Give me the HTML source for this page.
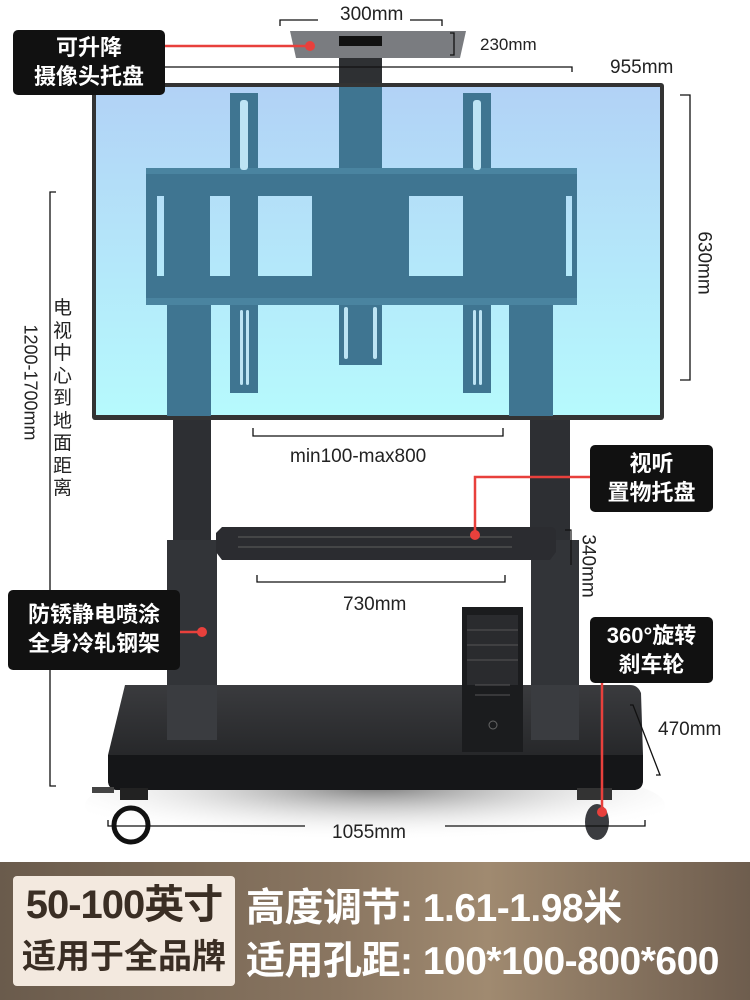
<!DOCTYPE html>
<html><head><meta charset="utf-8"><style>
body{margin:0;width:750px;height:1000px;position:relative;background:#fff;overflow:hidden;font-family:"Liberation Sans","Noto Sans CJK SC",sans-serif}
.a{position:absolute;white-space:nowrap}
.lbl{position:absolute;background:#111;color:#fff;border-radius:5px;font-weight:bold;font-size:22px;line-height:29px;text-align:center;font-family:"Liberation Sans","Noto Sans CJK SC",sans-serif}
.dim{font-size:19px;color:#222}
</style></head><body>
<svg class="a" style="left:0;top:0" width="750" height="862">
<defs>
<linearGradient id="scr" x1="0" y1="0" x2="0" y2="1"><stop offset="0" stop-color="#b2d2f6"/><stop offset="1" stop-color="#b6fafd"/></linearGradient>
<linearGradient id="base" x1="0" y1="0" x2="0" y2="1"><stop offset="0" stop-color="#3a3b3e"/><stop offset="1" stop-color="#1d1e20"/></linearGradient>
<radialGradient id="sh" cx="0.5" cy="0.3" r="0.6"><stop offset="0" stop-color="#444" stop-opacity=".7"/><stop offset="1" stop-color="#fff" stop-opacity="0"/></radialGradient>
</defs>
<rect x="339" y="33" width="43" height="55" fill="#2e3033"/>
<path d="M290 31 L466 31 L460 58 L296 58 Z" fill="#7a7c80"/>
<rect x="339" y="36" width="43" height="10" fill="#111"/>
<path d="M280 26 V20 H318 M410 20 H442 V26" stroke="#111" fill="none" stroke-width="1.3"/>
<path d="M450 33 H454 V55 H450" stroke="#111" fill="none" stroke-width="1.3"/>
<path d="M160 67 H572 V72" stroke="#111" fill="none" stroke-width="1.3"/>
<rect x="92" y="83" width="572" height="337" rx="3" fill="#333"/>
<rect x="96" y="87" width="564" height="328" fill="url(#scr)"/>
<g fill="#3f7591">
<rect x="339" y="87" width="43" height="278"/>
<rect x="167" y="300" width="44" height="116"/>
<rect x="509" y="300" width="44" height="116"/>
<path d="M146 168 H577 V305 H146 Z M157 196 V276 H164 V196 Z M210 196 V276 H312 V196 Z M409 196 V276 H463 V196 Z M566 196 V276 H572 V196 Z" fill-rule="evenodd"/>
<rect x="230" y="93" width="28" height="300"/>
<rect x="463" y="93" width="28" height="300"/>
</g>
<rect x="146" y="168" width="431" height="6" fill="#4a84a0"/>
<rect x="146" y="298" width="431" height="7" fill="#4a84a0"/>
<g fill="#bde4f4">
<rect x="240" y="100" width="8" height="70" rx="3"/><rect x="473" y="100" width="8" height="70" rx="3"/>
<rect x="240" y="310" width="3" height="75" rx="1.5"/><rect x="246" y="310" width="3" height="75" rx="1.5"/>
<rect x="473" y="310" width="3" height="75" rx="1.5"/><rect x="479" y="310" width="3" height="75" rx="1.5"/>
<rect x="344" y="307" width="4" height="52" rx="2"/><rect x="373" y="307" width="4" height="52" rx="2"/>
</g>
<rect x="173" y="420" width="38" height="120" fill="#2d2f33"/>
<rect x="530" y="420" width="40" height="120" fill="#2d2f33"/>
<path d="M253 428 V436 H503 V428" stroke="#111" fill="none" stroke-width="1.3"/>
<path d="M680 95 H690 V380 H680" stroke="#111" fill="none" stroke-width="1.3"/>
<path d="M56 192 H50 V786 H56" stroke="#111" fill="none" stroke-width="1.3"/>
<rect x="167" y="540" width="50" height="200" fill="#323438"/>
<rect x="531" y="540" width="48" height="200" fill="#323438"/>
<path d="M222 527 H550 Q556 527 556 533 V552 L550 560 H222 L216 552 V533 Z" fill="#2b2c30"/>
<path d="M238 537 H512 M238 547 H512" stroke="#555" stroke-width="1.2"/>
<path d="M257 575 V582 H505 V575" stroke="#111" fill="none" stroke-width="1.3"/>
<path d="M565 530 H571 V565" stroke="#111" fill="none" stroke-width="1.2"/>
<ellipse cx="375" cy="805" rx="290" ry="45" fill="url(#sh)"/>
<path d="M125 685 H630 Q638 685 641 693 L643 755 V780 Q643 790 633 790 H118 Q108 790 108 780 V755 Z" fill="url(#base)"/>
<path d="M108 755 H643 V780 Q643 790 633 790 H118 Q108 790 108 780 Z" fill="#151618"/>
<rect x="167" y="685" width="50" height="55" fill="#3a3c40"/>
<rect x="531" y="685" width="48" height="55" fill="#3a3c40"/>
<rect x="462" y="607" width="61" height="145" fill="#1b1c1e"/>
<rect x="467" y="615" width="51" height="70" fill="#2a2b2e"/>
<path d="M467 630 H518 M467 645 H518 M467 660 H518 M475 685 H510 M475 695 H510" stroke="#555" stroke-width="1"/>
<circle cx="493" cy="725" r="4" fill="none" stroke="#666"/>
<rect x="120" y="788" width="28" height="12" fill="#222"/>
<rect x="92" y="787" width="22" height="6" fill="#444"/>
<circle cx="131" cy="825" r="17" fill="none" stroke="#111" stroke-width="5"/>
<rect x="577" y="788" width="35" height="12" fill="#333"/>
<ellipse cx="597" cy="822" rx="12" ry="18" fill="#3b3c40"/>
<path d="M108 820 V826 H305 M445 826 H645 V820" stroke="#111" fill="none" stroke-width="1.3"/>
<path d="M630 705 H633 L660 775 H656" stroke="#111" fill="none" stroke-width="1.3"/>
<g stroke="#e8403c" stroke-width="2.5" fill="none">
<path d="M165 46 H310"/><path d="M590 477 H475 V535"/><path d="M180 632 H202"/><path d="M602 683 V810"/>
</g>
<g fill="#e8403c"><circle cx="310" cy="46" r="5"/><circle cx="475" cy="535" r="5"/><circle cx="202" cy="632" r="5"/><circle cx="602" cy="812" r="5"/></g>
</svg>
<div class="a dim" style="left:340px;top:4px">300mm</div>
<div class="a dim" style="left:480px;top:35px;font-size:17px">230mm</div>
<div class="a dim" style="left:610px;top:57px">955mm</div>
<div class="a dim" style="left:290px;top:446px">min100-max800</div>
<div class="a dim" style="left:343px;top:594px">730mm</div>
<div class="a dim" style="left:658px;top:719px">470mm</div>
<div class="a dim" style="left:332px;top:822px">1055mm</div>
<div class="a dim" style="left:672px;top:252px;transform:rotate(90deg)">630mm</div>
<div class="a dim" style="left:556px;top:555px;transform:rotate(90deg)">340mm</div>
<div class="a dim" style="left:-28px;top:372px;transform:rotate(90deg);font-size:18px">1200-1700mm</div>
<div class="a" style="left:53px;top:298px;width:20px;font-size:19px;line-height:22.5px;color:#222;white-space:normal">电视中心到地面距离</div>
<div class="lbl" style="left:13px;top:30px;width:152px;height:65px;padding-top:3px;box-sizing:border-box">可升降<br>摄像头托盘</div>
<div class="lbl" style="left:590px;top:445px;width:123px;height:67px;padding-top:4px;box-sizing:border-box">视听<br>置物托盘</div>
<div class="lbl" style="left:8px;top:590px;width:172px;height:80px;padding-top:10px;box-sizing:border-box">防锈静电喷涂<br>全身冷轧钢架</div>
<div class="lbl" style="left:590px;top:617px;width:123px;height:66px;padding-top:4px;box-sizing:border-box">360°旋转<br>刹车轮</div>
<div class="a" style="left:0;top:862px;width:750px;height:138px;background:linear-gradient(90deg,#6a5b4c 0%,#8a7661 45%,#a08a70 65%,#6e5d4e 100%)"></div>
<div class="a" style="left:13px;top:876px;width:222px;height:110px;background:#f3e9df;border-radius:4px;color:#3a2e24;font-weight:bold;text-align:center;font-size:40px;line-height:50px;padding-top:4px;box-sizing:border-box;letter-spacing:-1px">50-100英寸<br><span style="font-size:34px;letter-spacing:0">适用于全品牌</span></div>
<div class="a" style="left:246px;top:882px;color:#fff;font-weight:bold;font-size:39px;line-height:53px;letter-spacing:-0.5px">高度调节: 1.61-1.98米<br>适用孔距: 100*100-800*600</div>
</body></html>
